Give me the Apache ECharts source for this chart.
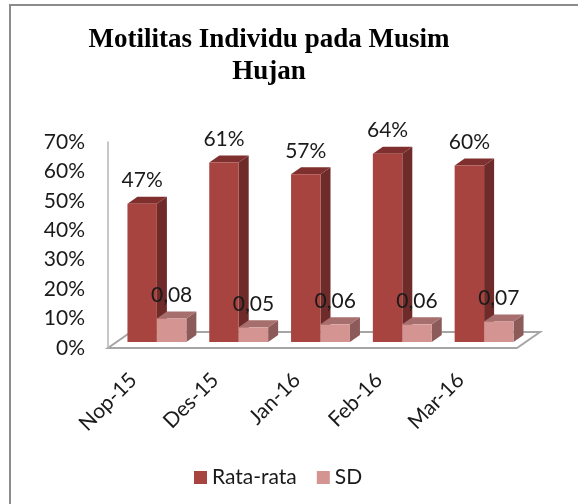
<!DOCTYPE html>
<html>
<head>
<meta charset="utf-8">
<script src="https://cdn.jsdelivr.net/npm/echarts@6/dist/echarts.min.js"></script>
<style>
  html, body { margin: 0; padding: 0; background: #fff; }
  #chart { width: 578px; height: 504px; }
</style>
</head>
<body>
<div id="chart"></div>
<script>
var categories = ['Nop-15', 'Des-15', 'Jan-16', 'Feb-16', 'Mar-16']
var rataRata = [0.47, 0.61, 0.57, 0.64, 0.60]
var sd = [0.08, 0.05, 0.06, 0.06, 0.07]
var yTicks = [0, 0.1, 0.2, 0.3, 0.4, 0.5, 0.6, 0.7]

var FONT = 'Lato'
var gridLeft = 108
var gridRight = 61
var gridTop = 142
var gridBottom = 156
// 3d look: bars sit a bit behind the front plane
var DX = 8, DY = -6, DEPTH_X = 10, DEPTH_Y = -7

function barRenderer(side, colors, fmt) {
  return function (params, api) {
    var i = api.value(0)
    var v = api.value(1)
    var base = api.coord([i, 0])
    var top = api.coord([i, v])
    var w = api.size([1, 0])[0] * 0.36
    var x0 = base[0] + DX + (side === 0 ? -w : 0)
    var by = base[1] + DY
    var ty = top[1] + DY
    return {
      type: 'group',
      children: [
        {
          type: 'polygon',
          shape: { points: [[x0 + w, ty], [x0 + w + DEPTH_X, ty + DEPTH_Y], [x0 + w + DEPTH_X, by + DEPTH_Y], [x0 + w, by]] },
          style: { fill: colors.side }
        },
        {
          type: 'polygon',
          shape: { points: [[x0, ty], [x0 + DEPTH_X, ty + DEPTH_Y], [x0 + w + DEPTH_X, ty + DEPTH_Y], [x0 + w, ty]] },
          style: { fill: colors.top }
        },
        {
          type: 'rect',
          shape: { x: x0, y: ty, width: w, height: by - ty },
          style: { fill: colors.front }
        },
        {
          type: 'text',
          x: x0 + w / 2,
          y: ty - 23,
          style: {
            text: fmt(v),
            fill: '#1a1a1a',
            font: '21px ' + FONT,
            align: 'center',
            verticalAlign: 'middle'
          }
        }
      ]
    }
  }
}

var rataColors = { front: '#a84440', side: '#6e2b29', top: '#7f302e' }
var sdColors = { front: '#d49492', side: '#8c5a59', top: '#a66e6c' }

var chart = echarts.init(document.getElementById('chart'))

var fx0 = gridLeft, fx1 = 578 - gridRight, fy = 504 - gridBottom

chart.setOption({
  animation: false,
  backgroundColor: '#fff',
  title: {
    text: 'Motilitas Individu pada Musim\nHujan',
    left: 269,
    top: 24,
    padding: 0,
    textAlign: 'center',
    textStyle: {
      fontFamily: 'Liberation Serif',
      fontWeight: 'bold',
      fontSize: 27,
      lineHeight: 32,
      color: '#000'
    }
  },
  legend: {
    left: 189,
    top: 462,
    itemWidth: 13,
    itemHeight: 13,
    itemGap: 20,
    icon: 'rect',
    textStyle: { fontFamily: FONT, fontSize: 21, color: '#1a1a1a' },
    data: ['Rata-rata', 'SD']
  },
  grid: { left: gridLeft, right: gridRight, top: gridTop, bottom: gridBottom },
  xAxis: {
    type: 'category',
    data: categories,
    axisLine: { show: false },
    axisTick: { show: false },
    axisLabel: {
      rotate: 45,
      margin: 13,
      padding: [0, 22, 0, 0],
      fontFamily: FONT,
      fontSize: 21,
      color: '#1a1a1a'
    }
  },
  yAxis: {
    type: 'value',
    min: yTicks[0],
    max: yTicks[yTicks.length - 1],
    interval: 0.1,
    splitLine: { show: false },
    axisTick: { show: false },
    axisLine: { show: true, lineStyle: { color: '#b5b5b5', width: 1.5 } },
    axisLabel: {
      margin: 23,
      fontFamily: FONT,
      fontSize: 21,
      color: '#1a1a1a',
      formatter: function (v) { return Math.round(v * 100) + '%' }
    }
  },
  graphic: [
    {
      type: 'polyline',
      shape: { points: [[10, 504], [10, 5], [578, 5]] },
      style: { stroke: '#8c8c8c', lineWidth: 2, fill: null }
    },
    {
      type: 'polygon',
      z: -1,
      shape: { points: [[fx0, fy], [fx1, fy], [fx1 + 23, fy - 16], [fx0 + 23, fy - 16]] },
      style: { stroke: '#a6a6a6', lineWidth: 2, fill: '#fff' }
    }
  ],
  series: [
    {
      name: 'Rata-rata',
      type: 'custom',
      itemStyle: { color: rataColors.front },
      renderItem: barRenderer(0, rataColors, function (v) { return Math.round(v * 100) + '%' }),
      encode: { x: 0, y: 1 },
      data: rataRata.map(function (v, i) { return [i, v] })
    },
    {
      name: 'SD',
      type: 'custom',
      itemStyle: { color: sdColors.front },
      renderItem: barRenderer(1, sdColors, function (v) { return v.toFixed(2).replace('.', ',') }),
      encode: { x: 0, y: 1 },
      data: sd.map(function (v, i) { return [i, v] })
    }
  ]
})
</script>
</body>
</html>
